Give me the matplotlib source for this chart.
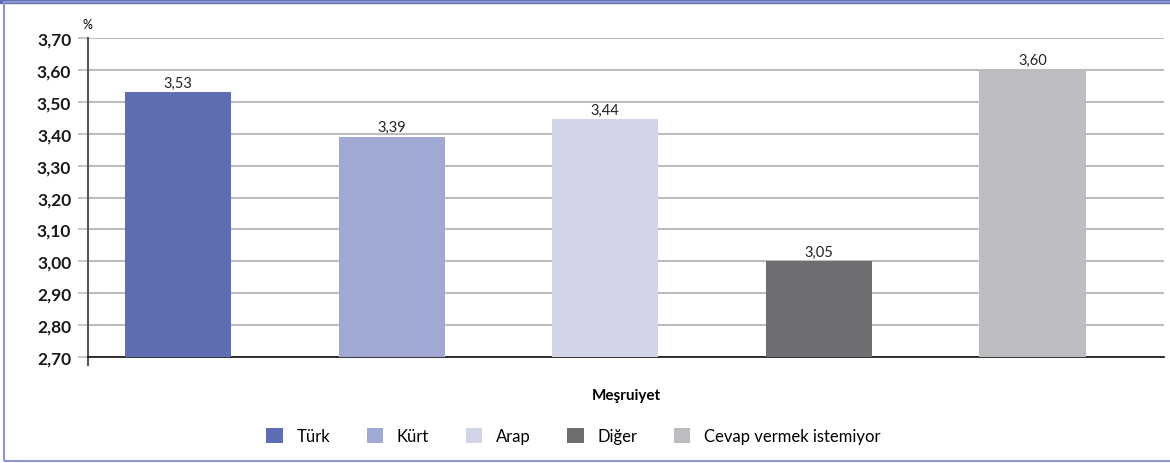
import matplotlib.pyplot as plt
from matplotlib.patches import Rectangle, Patch

categories = ['Türk', 'Kürt', 'Arap', 'Diğer', 'Cevap vermek istemiyor']
# bar heights as drawn in the picture, labels as printed above bars
bar_heights = [3.53, 3.39, 3.445, 3.00, 3.60]
bar_labels = ['3,53', '3,39', '3,44', '3,05', '3,60']
colors = ['#5f6db3', '#a0a8d4', '#d2d4e8', '#6d6e71', '#bcbdc0']
yticks = [2.70, 2.80, 2.90, 3.00, 3.10, 3.20, 3.30, 3.40, 3.50, 3.60, 3.70]
ytick_labels = ['2,70', '2,80', '2,90', '3,00', '3,10', '3,20', '3,30', '3,40', '3,50', '3,60', '3,70']
xlabel = 'Meşruiyet'

plt.rcParams['font.family'] = ['Lato', 'DejaVu Sans']

fig = plt.figure(figsize=(11.7, 4.64), dpi=100)
ax = fig.add_axes([0.0752, 0.2284, 0.9197, 0.6875])

xs = list(range(len(categories)))
ax.bar(xs, [h - 2.70 for h in bar_heights], bottom=2.70, width=0.497, color=colors, zorder=3)
for x, h, lab in zip(xs, bar_heights, bar_labels):
    ax.text(x, h + 0.008, lab, ha='center', va='bottom', fontsize=10.5, color='#222222', zorder=4)

ax.set_xlim(-0.422, 4.616)
ax.set_ylim(2.70, 3.70)
ax.set_yticks(yticks)
ax.set_yticklabels(ytick_labels, fontsize=12.5, fontweight='bold', color='#1a1a1a')
ax.set_xticks([])
ax.tick_params(axis='y', length=7, width=1.2, color='#bdbdbd', pad=5)
ax.yaxis.grid(True, color='#bdbdbd', linewidth=1.5, zorder=0)
ax.set_axisbelow(True)

for s in ['top', 'right']:
    ax.spines[s].set_visible(False)
ax.spines['left'].set_color('#555555')
ax.spines['left'].set_linewidth(1.5)
ax.spines['bottom'].set_color('#111111')
ax.spines['bottom'].set_linewidth(1.2)
ax.plot([0, 0], [0, -0.025], transform=ax.transAxes, color='#555555', lw=1.5, clip_on=False)

ax.set_xlabel(xlabel, fontsize=11, fontweight='bold', labelpad=22)
ax.text(-0.005, 1.025, '%', transform=ax.transAxes, fontsize=9, ha='left', va='bottom')

handles = [Patch(facecolor=c, edgecolor='none') for c in colors]
fig.legend(handles, categories, loc='center', bbox_to_anchor=(0.49, 0.058), ncol=5, frameon=False,
           fontsize=12, handlelength=1.0, handleheight=1.0, columnspacing=2.2, handletextpad=0.8)

# frame around the figure
fig.patches.append(Rectangle((0, 0.991), 1, 0.009, transform=fig.transFigure, color='#5f6db3', zorder=10))
fig.patches.append(Rectangle((0.0038, 0.004), 1.1, 0.99, transform=fig.transFigure, fill=False,
                             edgecolor='#8d96cf', lw=1.5, zorder=10))

fig.savefig('out.png', dpi=100)
